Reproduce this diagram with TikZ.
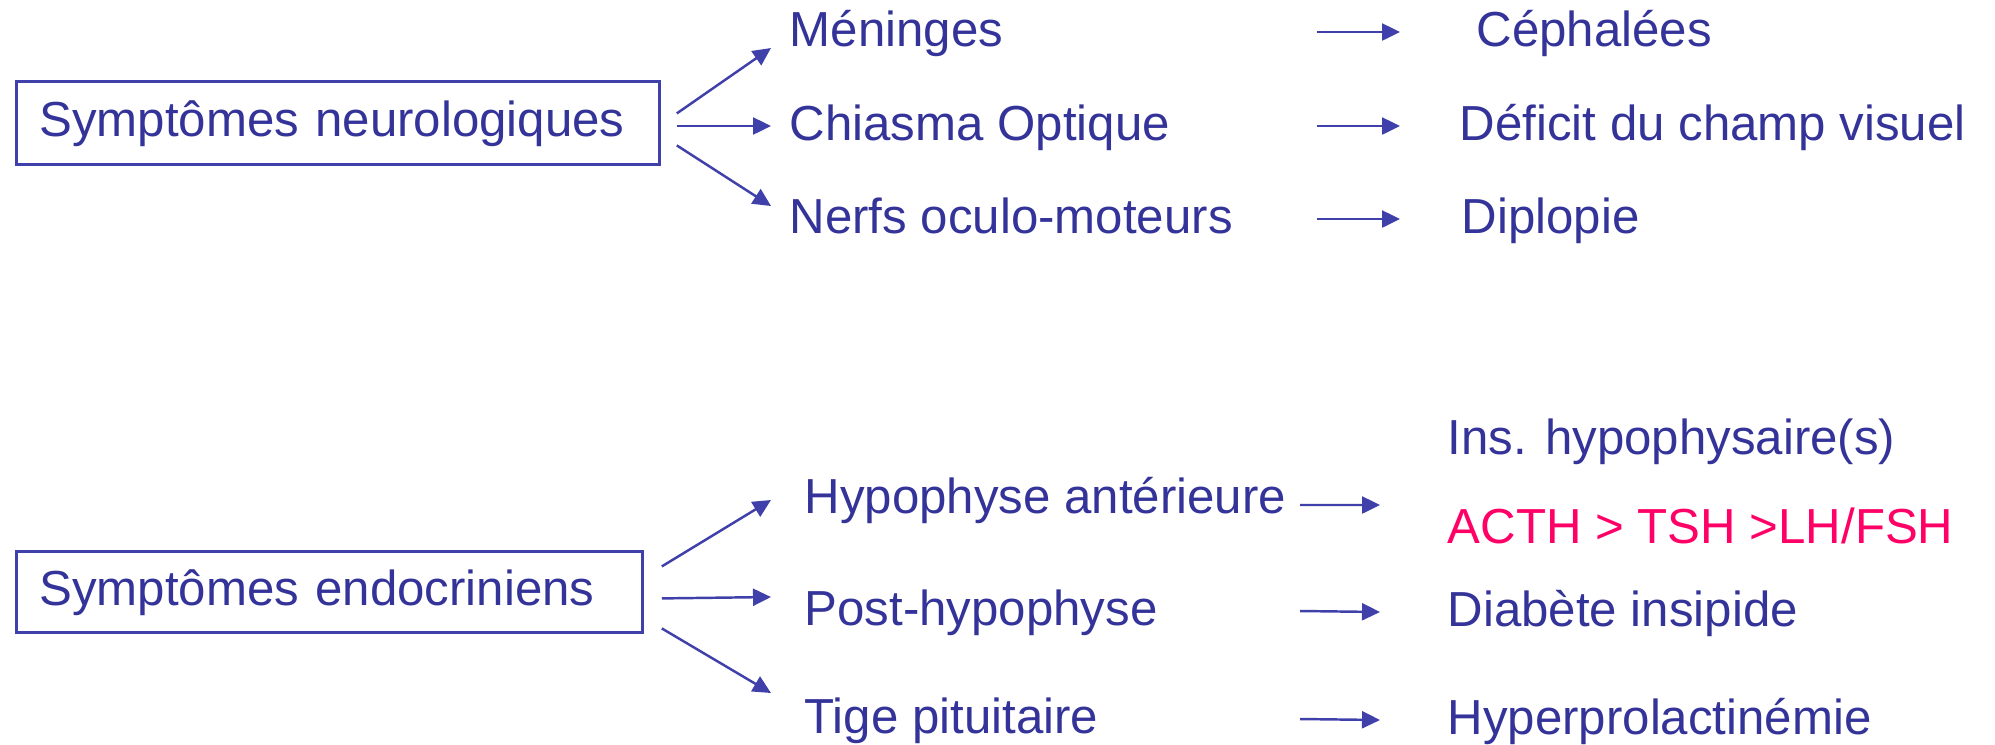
\documentclass[tikz,border=0pt]{standalone}
\usepackage{fontspec}
\setmainfont{Liberation Sans}
\usepackage{xcolor}
\usepackage{tikz}
\usetikzlibrary{arrows.meta, positioning, calc}
\definecolor{textblue}{RGB}{51, 51, 153}
\definecolor{lineblue}{RGB}{64, 64, 170}
\definecolor{hotpink}{RGB}{255, 0, 102}

\begin{document}
\begin{tikzpicture}[
    font=\fontsize{14}{17}\selectfont,
    symbox/.style={
        rectangle, draw=lineblue, line width=0.8pt, text=textblue,
        anchor=north west, inner xsep=0.23cm, align=left,
        text height=0.86em, text depth=0.11em
    },
    item/.style={
        anchor=west, inner sep=0pt, text=textblue,
        text height=0.9em, text depth=0.06em
    },
    line/.style={draw, -{Triangle[length=0.18cm, width=0.17cm]}, line width=0.7pt, color=lineblue}
]
    \useasboundingbox (0,0) rectangle (19.95,-7.44);

    % neurological part
    \node [symbox, minimum width=6.43cm, minimum height=0.83cm, text width=5.97cm] (neuro) at (0.15,-0.80) {Symptômes neurologiques};
    \node [item] (men)  at (7.89,-0.32) {Méninges};
    \node [item] (chi)  at (7.89,-1.26) {Chiasma Optique};
    \node [item] (ner)  at (7.89,-2.19) {Nerfs oculo-moteurs};
    \node [item] (ceph) at (14.76,-0.32) {Céphalées};
    \node [item] (def)  at (14.59,-1.26) {Déficit du champ visuel};
    \node [item] (dip)  at (14.61,-2.19) {Diplopie};

    % endocrine part
    \node [symbox, minimum width=6.26cm, minimum height=0.81cm, text width=5.80cm] (endo) at (0.15,-5.50) {Symptômes endocriniens};
    \node [item] (hypa)  at (8.04,-4.99) {Hypophyse antérieure};
    \node [item] (post)  at (8.04,-6.11) {Post-hypophyse};
    \node [item] (tige)  at (8.04,-7.19) {Tige pituitaire};
    \node [item] (ins)   at (14.47,-4.40) {Ins. hypophysaire(s)};
    \node [item, text=hotpink] (acth) at (14.47,-5.29) {ACTH > TSH >LH/FSH};
    \node [item] (diab)  at (14.47,-6.12) {Diabète insipide};
    \node [item] (hyper) at (14.47,-7.20) {Hyperprolactinémie};

    \path [line] ($(neuro.east)+(0.16,0.095)$) -- ($(men.west)+(-0.18,-0.16)$);
    \path [line] ($(neuro.east |- chi.west)+(0.16,0)$) -- ($(chi.west)+(-0.18,0)$);
    \path [line] ($(neuro.east)+(0.16,-0.225)$) -- ($(ner.west)+(-0.18,0.13)$);
    \path [line] ($(men.west)+(5.28,0)$) -- ($(ceph.west)+(-0.76,0)$);
    \path [line] ($(chi.west)+(5.28,0)$) -- ($(def.west)+(-0.59,0)$);
    \path [line] ($(ner.west)+(5.28,0)$) -- ($(dip.west)+(-0.61,0)$);

    \path [line] ($(endo.east)+(0.18,0.255)$) -- ($(hypa.west)+(-0.33,-0.01)$);
    \path [line] ($(endo.east)+(0.18,-0.065)$) -- ($(post.west)+(-0.33,0.14)$);
    \path [line] ($(endo.east)+(0.18,-0.365)$) -- ($(tige.west)+(-0.33,0.26)$);
    \path [line] ($(hypa.west)+(4.96,-0.06)$) -- ($(acth.west)+(-0.67,0.24)$);
    \path [line] ($(post.west)+(4.96,0)$) -- ($(diab.west)+(-0.67,0)$);
    \path [line] ($(tige.west)+(4.96,0)$) -- ($(hyper.west)+(-0.67,0)$);
\end{tikzpicture}
\end{document}
